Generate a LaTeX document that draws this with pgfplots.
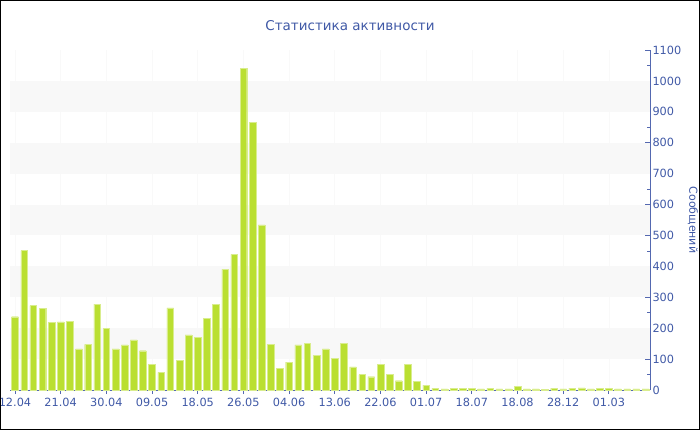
\documentclass[border=0pt]{standalone}
\usepackage{fontspec}
\setmainfont{DejaVu Sans}
\usepackage{pgfplots}
\usepackage{pgfplotstable}
\pgfplotsset{compat=1.18}
\definecolor{txt}{HTML}{4059A6}
\definecolor{axc}{HTML}{5468B0}
\definecolor{barc}{HTML}{BADF31}
\definecolor{band}{HTML}{F8F8F8}
\pgfplotstableread{
x y
0 237
1 451
2 273
3 265
4 219
5 220
6 223
7 133
8 148
9 278
10 200
11 133
12 146
13 162
14 127
15 84
16 57
17 266
18 95
19 178
20 171
21 231
22 277
23 390
24 439
25 1041
26 865
27 534
28 148
29 69
30 90
31 146
32 150
33 113
34 133
35 102
36 152
37 75
38 50
39 43
40 83
41 51
42 30
43 84
44 27
45 16
46 5
47 4
48 6
49 6
50 6
51 4
52 5
53 4
54 4
55 11
56 4
57 4
58 3
59 5
60 4
61 6
62 7
63 4
64 5
65 5
66 4
67 4
68 4
69 4
}\activity
\begin{document}
\begin{tikzpicture}
\useasboundingbox (0,0) rectangle (700bp,430bp);
\clip (0,0) rectangle (700bp,430bp);
\node[text=txt, font=\fontsize{13.5bp}{16bp}\selectfont] at (350bp,404bp) {Статистика активности};
\begin{axis}[
  at={(10.4bp,40bp)}, anchor=south west,
  scale only axis, width=639.6bp, height=340bp,
  xmin=-0.5, xmax=69.5, ymin=0, ymax=1100,
  axis x line=bottom, axis y line=right,
  x axis line style={-, draw=axc, line width=1bp},
  y axis line style={-, draw=axc, line width=1bp},
  clip=false,
  ybar, bar width=0.73,
  xtick={0,5,...,65},
  xticklabels={12.04,21.04,30.04,09.05,18.05,26.05,04.06,13.06,22.06,01.07,18.07,18.08,28.12,01.03},
  ytick={0,100,...,1100},
  minor y tick num=1,
  xtick style={draw=axc, line width=0.8bp},
  ytick style={draw=axc, line width=0.8bp},
  x tick style={/pgfplots/major tick length=4bp},
  y tick style={/pgfplots/major tick length=5bp, /pgfplots/minor tick length=3bp},
  xtick align=outside, ytick align=inside,
  xmajorgrids, major x grid style={draw=gray!5, line width=0.6bp},
  ticklabel style={text=txt, font=\fontsize{11.3bp}{13bp}\selectfont},
  /pgf/number format/assume math mode=true,
  /pgf/number format/1000 sep={},
  xticklabel style={yshift=-0.5bp},
  yticklabel style={xshift=-1bp},
]
\fill[band] (axis cs:-0.5,100) rectangle (axis cs:69.5,200);
\fill[band] (axis cs:-0.5,300) rectangle (axis cs:69.5,400);
\fill[band] (axis cs:-0.5,500) rectangle (axis cs:69.5,600);
\fill[band] (axis cs:-0.5,700) rectangle (axis cs:69.5,800);
\fill[band] (axis cs:-0.5,900) rectangle (axis cs:69.5,1000);
\addplot[fill=barc, draw=barc!55!white, line width=0.4bp] table[x=x,y=y] {\activity};
\node[text=txt, xshift=43bp, rotate=-90, font=\fontsize{11bp}{13bp}\selectfont] at (rel axis cs:1,0.5) {Сообщений};
\end{axis}
\draw[black, line width=2bp] (0,0) rectangle (700bp,430bp);
\end{tikzpicture}
\end{document}
